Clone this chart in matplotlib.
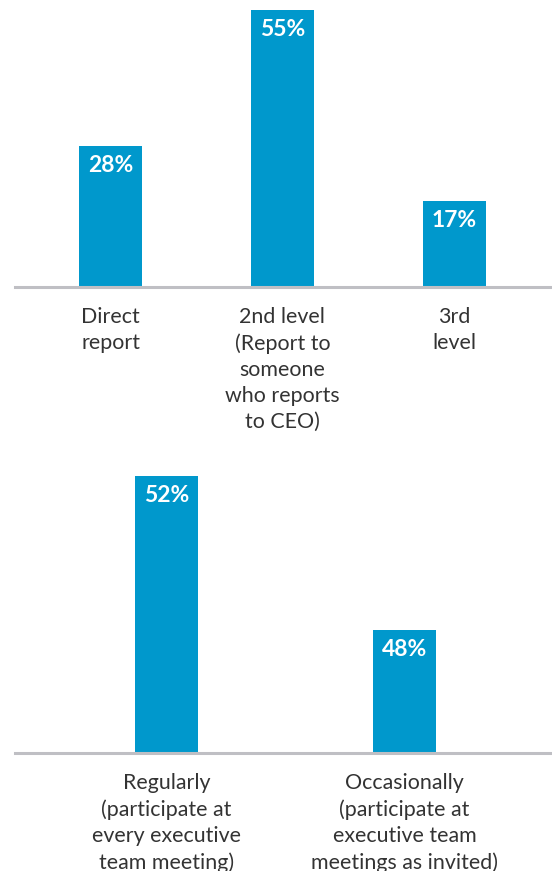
import matplotlib
matplotlib.use("Agg")
import matplotlib.pyplot as plt

# Reporting line to the CEO
level_labels = [
    "Direct\nreport",
    "2nd level\n(Report to\nsomeone\nwho reports\nto CEO)",
    "3rd\nlevel",
]
level_values = [28, 55, 17]

# Participation in executive team meetings
meeting_labels = [
    "Regularly\n(participate at\nevery executive\nteam meeting)",
    "Occasionally\n(participate at\nexecutive team\nmeetings as invited)",
]
meeting_values = [52, 48]

BAR_COLOR = "#0098cc"
AXIS_COLOR = "#bfbfc4"
TEXT_COLOR = "#333333"
LABEL_FONT = "Lato"

W, H = 552, 871
fig = plt.figure(figsize=(W / 100, H / 100), dpi=100)


def px_axes(left, right, top, base):
    """Create axes from pixel edges (top-left origin)."""
    return fig.add_axes([left / W, (H - base) / H, (right - left) / W, (base - top) / H])


def style(ax, labels):
    for side in ("top", "left", "right"):
        ax.spines[side].set_visible(False)
    ax.spines["bottom"].set_color(AXIS_COLOR)
    ax.spines["bottom"].set_linewidth(2.2)
    ax.spines["bottom"].set_zorder(3)
    ax.set_yticks([])
    ax.set_xticks(range(len(labels)))
    ax.set_xticklabels(labels, fontsize=15.4, color=TEXT_COLOR, family=LABEL_FONT,
                       linespacing=1.37, va="top", ha="center")
    ax.tick_params(axis="x", length=0, pad=14.5)


def value_labels(ax, xs, vals):
    for x, v in zip(xs, vals):
        ax.annotate(f"{v}%", (x, v), xytext=(0, -6.5), textcoords="offset points",
                    ha="center", va="top", color="white", fontsize=16.5,
                    fontweight="bold", family=LABEL_FONT)


# Top chart
ax1 = px_axes(15, 552, 10, 287)
x1 = list(range(len(level_values)))
ax1.bar(x1, level_values, width=0.366, color=BAR_COLOR, zorder=1)
ax1.set_xlim(-0.556, 2.569)
ax1.set_ylim(0, 55)
style(ax1, level_labels)
value_labels(ax1, x1, level_values)

# Bottom chart
ax2 = px_axes(15, 552, 476, 753)
x2 = list(range(len(meeting_values)))
ax2.bar(x2, meeting_values, width=0.265, color=BAR_COLOR, zorder=1)
ax2.set_xlim(-0.636, 1.620)
ax2.set_ylim(44.8, 52)
style(ax2, meeting_labels)
value_labels(ax2, x2, meeting_values)

fig.savefig("out.png", dpi=100)
